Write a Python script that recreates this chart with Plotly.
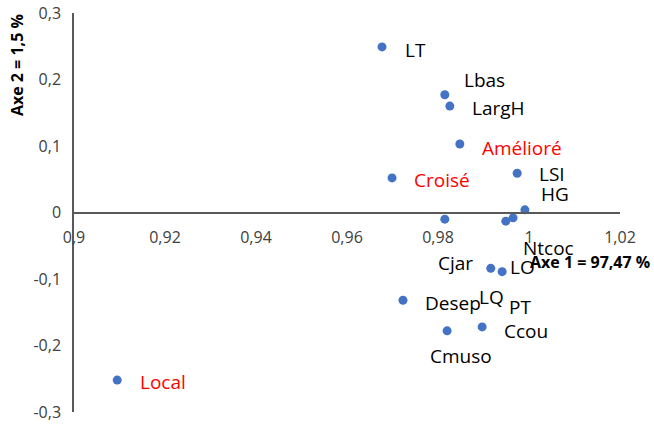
import plotly.graph_objects as go

# Data
labels = ["LT", "Lbas", "LargH", "Amélioré", "Croisé", "LSI", "HG", "Cjar",
          "PT", "Ntcoc", "LQ", "LO", "Desep", "Cmuso", "Ccou", "Local"]
axe1 = [0.9677, 0.9815, 0.9826, 0.9848, 0.9699, 0.9974, 0.9991, 0.9815,
        0.9949, 0.9965, 0.9916, 0.9941, 0.9723, 0.9820, 0.9897, 0.9095]
axe2 = [0.249, 0.177, 0.160, 0.103, 0.052, 0.059, 0.004, -0.010,
        -0.013, -0.008, -0.084, -0.089, -0.132, -0.178, -0.172, -0.252]
label_colors = ["black", "black", "black", "red", "red", "black", "black", "black",
                "black", "black", "black", "black", "black", "black", "black", "red"]
# label offsets (pixels) of the left edge of each label relative to its point
label_dx = [21, 17, 20, 20, 20, 20, 14, -9, 1, 8, -14, 6, 20, -19, 20, 21]
label_dy = [-3, 15, -2, -4, -2, -1, 16, -44, -86, -30, -29, 5, -3, -25, -4, -2]

x_ticks = [0.9, 0.92, 0.94, 0.96, 0.98, 1.0, 1.02]
x_ticktext = ["0,9", "0,92", "0,94", "0,96", "0,98", "1", "1,02"]
y_ticks = [-0.3, -0.2, -0.1, 0, 0.1, 0.2, 0.3]
y_ticktext = ["-0,3", "-0,2", "-0,1", "0", "0,1", "0,2", "0,3"]

FONT = "Open Sans"

fig = go.Figure()
fig.add_trace(go.Scatter(
    x=axe1, y=axe2, mode="markers",
    marker=dict(color="#4472C4", size=9),
    hoverinfo="text", text=labels, showlegend=False,
))

for lab, x, y, c, dx, dy in zip(labels, axe1, axe2, label_colors, label_dx, label_dy):
    fig.add_annotation(
        x=x, y=y, xref="x", yref="y", text=lab, showarrow=False,
        xanchor="left", yanchor="middle", xshift=dx, yshift=dy,
        font=dict(family=FONT, size=19, color=c),
    )

fig.add_annotation(
    x=0.831, y=0.375, xref="paper", yref="paper", text="<b>Axe 1 = 97,47 %</b>",
    showarrow=False, xanchor="left", yanchor="middle",
    font=dict(family=FONT, size=16, color="black"),
)
fig.add_annotation(
    x=-0.104, y=0.87, xref="paper", yref="paper", text="<b>Axe 2 = 1,5 %</b>",
    showarrow=False, textangle=-90, xanchor="center", yanchor="middle",
    font=dict(family=FONT, size=16, color="black"),
)

fig.update_layout(
    width=654, height=429,
    margin=dict(l=74, r=34, t=13, b=17, autoexpand=False),
    plot_bgcolor="white", paper_bgcolor="white",
    font=dict(family=FONT, size=16, color="#404040"),
    xaxis=dict(
        range=[0.9, 1.02], tickvals=x_ticks, ticktext=x_ticktext, automargin=False,
        showgrid=False, zeroline=False, showline=True, linecolor="#595959", linewidth=1.5,
        anchor="free", position=0.5, ticks="outside", ticklen=11, tickcolor="rgba(0,0,0,0)",
        tickfont=dict(family=FONT, size=16, color="#404040"),
    ),
    yaxis=dict(
        range=[-0.3, 0.3], tickvals=y_ticks, ticktext=y_ticktext, automargin=False,
        showgrid=False, zeroline=False, showline=True, linecolor="#595959", linewidth=1.5,
        ticks="outside", ticklen=8, tickcolor="rgba(0,0,0,0)",
        tickfont=dict(family=FONT, size=16, color="#404040"),
    ),
)

fig.write_html("out.html", config={"displayModeBar": False},
               post_script="document.body.style.margin='0';")
